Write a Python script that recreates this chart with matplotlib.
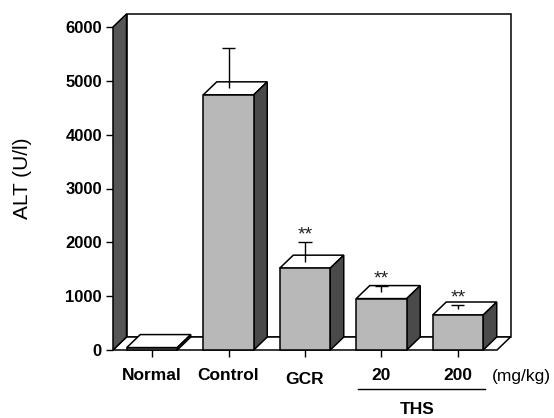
import numpy as np
import matplotlib.pyplot as plt
from matplotlib.patches import Polygon
from matplotlib.transforms import offset_copy

######################################
# DATA
######################################

groups = ["Normal", "Control", "GCR", "20", "200"]
alt_mean = [45, 4740, 1520, 955, 650]
alt_sd = [0, 870, 485, 235, 185]
stars = ["", "", "**", "**", "**"]
y_ticks = [0, 1000, 2000, 3000, 4000, 5000, 6000]

######################################
# STYLE
######################################

plt.rcParams['font.family'] = ['Liberation Sans', 'DejaVu Sans']
front_col = '#b8b8b8'
side_col = '#4a4a4a'
wall_col = '#565656'
lw = 1.1

fig = plt.figure(figsize=(5.54, 4.18), dpi=100)
# axes = front plane of the 3D box (pixel layout)
ax = fig.add_axes([113/554, 68/418, 384/554, 323/418])
xl, xr = -0.51, 4.51
ax.set_xlim(xl, xr)
ax.set_ylim(0, 6000)
for s in ax.spines.values():
	s.set_visible(False)

# depth offset of the pseudo 3D, in data units
DX = 13.5 * (xr - xl) / 384.0
DY = 13.0 * 6000 / 323.0

def poly(pts, fc, z):
	p = Polygon(pts, closed=True, facecolor=fc, edgecolor='black',
				linewidth=lw, clip_on=False, zorder=z)
	ax.add_patch(p)

# back wall, floor, left wall
poly([(xl+DX, DY), (xl+DX, 6000+DY), (xr+DX, 6000+DY), (xr+DX, DY)], 'white', 1)
poly([(xl, 0), (xr, 0), (xr+DX, DY), (xl+DX, DY)], 'white', 2)
poly([(xl, 0), (xl, 6000), (xl+DX, 6000+DY), (xl+DX, DY)], wall_col, 3)

# bars
w = 0.66
x = np.arange(len(groups))
ax.bar(x, alt_mean, width=w, color=front_col, edgecolor='black',
	   linewidth=lw, zorder=5, clip_on=False)
for i, v in enumerate(alt_mean):
	x0, x1 = i - w/2, i + w/2
	poly([(x0, v), (x1, v), (x1+DX, v+DY), (x0+DX, v+DY)], 'white', 4)
	poly([(x1, 0), (x1+DX, DY), (x1+DX, v+DY), (x1, v)], side_col, 4)

# error bars (start from middle of the top face)
cap = 0.085
for i, (v, sd) in enumerate(zip(alt_mean, alt_sd)):
	if sd == 0:
		continue
	top = v + sd
	ax.vlines(i, v + DY/2, top, color='black', linewidth=1.0, zorder=6)
	ax.hlines(top, i - cap, i + cap, color='black', linewidth=1.0, zorder=6)
	if stars[i]:
		t = offset_copy(ax.transData, fig=fig, x=0, y=5, units='points')
		ax.text(i, top, stars[i], transform=t, ha='center', va='center',
				fontsize=14, color='#222222')

# axes ticks
ax.set_yticks(y_ticks)
ax.set_yticklabels([str(t) for t in y_ticks], fontsize=12, fontweight='bold')
ax.set_xticks(x)
ax.set_xticklabels([])
ax.tick_params(direction='out', length=5, width=1.0, pad=3)

# x labels drawn as text (GCR sits a bit lower in the original)
label_drop = [26, 26, 30, 26, 26]
for i, g in enumerate(groups):
	t = offset_copy(ax.get_xaxis_transform(), fig=fig, x=0,
					y=-label_drop[i] * 72 / 100.0, units='points')
	ax.text(i, 0, g, transform=t, ha='center', va='center',
			fontsize=12.5, fontweight='bold')

fig.text(492/554, 1 - 376/418, "(mg/kg)", ha='left', va='center', fontsize=12.5)
fig.add_artist(plt.Line2D([358/554, 485/554], [1 - 389/418, 1 - 389/418],
						  color='black', linewidth=1.0))
fig.text(417/554, 1 - 410/418, "THS", ha='center', va='center',
		 fontsize=12.5, fontweight='bold')
fig.text(23/554, 1 - 178/418, "ALT (U/l)", rotation=90, ha='center',
		 va='center', fontsize=15)

fig.savefig('out.png', dpi=100)
